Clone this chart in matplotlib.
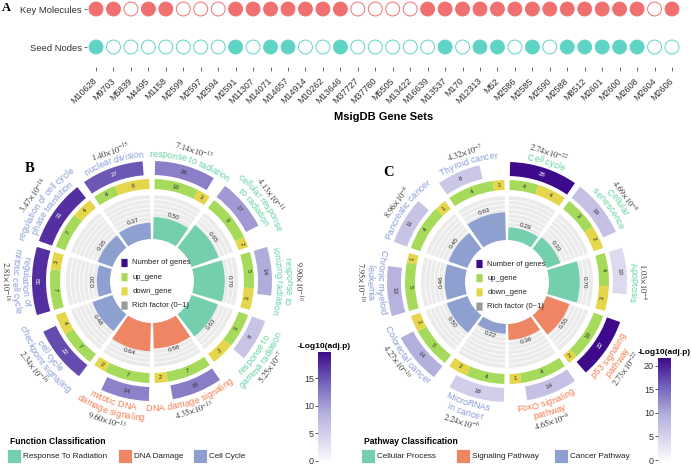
import numpy as np
import matplotlib
matplotlib.use("Agg")
import matplotlib.pyplot as plt
from matplotlib.colors import LinearSegmentedColormap, Normalize
from matplotlib.cm import ScalarMappable
from matplotlib.patches import Rectangle, FancyBboxPatch
from matplotlib.font_manager import FontProperties, findfont
from matplotlib.ft2font import FT2Font

plt.rcParams['font.family'] = ['Liberation Sans', 'DejaVu Sans']
plt.rcParams['mathtext.fontset'] = 'stix'

W, H = 691, 466

# ---------------- panel A data
gene_sets = ["M10628", "M9703", "M5839", "M4495", "M1158", "M2599", "M2597", "M2594",
             "M2591", "M11307", "M14071", "M14657", "M14914", "M10262", "M13646",
             "M37727", "M37780", "M5505", "M13422", "M16639", "M13537", "M170",
             "M12313", "M52", "M2586", "M2585", "M2590", "M2588", "M8512", "M2601",
             "M2600", "M2608", "M2604", "M2606"]
key_molecules = [1, 1, 0, 1, 1, 0, 0, 0, 1, 1, 1, 1, 1, 1, 1,
                 0, 0, 0, 0, 1, 1, 1, 1, 1, 1, 1, 1, 1, 1, 1, 1, 1, 0, 1]
seed_nodes = [1, 0, 0, 0, 0, 0, 0, 0, 1, 0, 1, 1, 0, 0, 1,
              0, 0, 0, 0, 0, 1, 0, 1, 1, 0, 1, 0, 1, 1, 1, 1, 1, 0, 0]
row_names = ["Key Molecules", "Seed Nodes"]

# ---------------- panel B data (GO)
go_terms = ["response to radiation", "cellular response\nto radiation",
            "response to\nionizing radiation", "response to\ngamma radiation",
            "DNA damage signaling", "mitotic DNA\ndamage signaling",
            "cell cycle\ncheckpoint signaling", "regulation of\nmitotic cell cycle",
            "regulation of cell cycle\nphase transition", "nuclear division"]
go_class = ["Response To Radiation"] * 4 + ["DNA Damage"] * 2 + ["Cell Cycle"] * 4
go_rich = [0.50, 0.65, 0.70, 0.63, 0.58, 0.64, 0.48, 0.30, 0.35, 0.37]
go_up = [10, 9, 5, 3, 7, 7, 7, 7, 7, 4]
go_down = [3, 2, 3, 2, 2, 2, 4, 3, 4, 6]
go_count = [26, 17, 14, 8, 16, 14, 22, 33, 31, 27]
go_padj = [7.14e-13, 4.13e-11, 9.90e-10, 5.25e-7, 4.35e-13, 9.60e-13,
           2.34e-16, 2.81e-18, 3.47e-18, 1.40e-15]

# ---------------- panel C data (KEGG)
kegg_terms = ["Cell cycle", "Cellular\nsenescence", "Apoptosis", "p53 signaling\npathway",
              "FoxO signaling\npathway", "MicroRNAs\nin cancer", "Colorectal cancer",
              "Chronic myeloid\nleukemia", "Pancreatic cancer", "Thyroid cancer"]
kegg_class = ["Cellular Process"] * 3 + ["Signaling Pathway"] * 2 + ["Cancer Pathway"] * 5
kegg_rich = [0.29, 0.33, 0.70, 0.55, 0.36, 0.22, 0.50, 0.46, 0.45, 0.63]
kegg_up = [4, 3, 4, 10, 4, 4, 5, 5, 4, 4]
kegg_down = [4, 2, 3, 2, 1, 2, 2, 1, 1, 1]
kegg_count = [28, 19, 10, 22, 14, 18, 14, 13, 11, 8]
kegg_padj = [2.74e-22, 4.69e-8, 1.03e-4, 2.73e-22, 4.65e-8, 2.24e-6,
             4.27e-10, 7.95e-10, 8.96e-8, 4.32e-7]

# colours
RED, TEAL = "#F07070", "#5FD4C5"
UP_COL, DOWN_COL, GRAY_BG = "#A6DA5B", "#E6D64C", "#EBEBEB"
go_fill = {"Response To Radiation": "#74CFAC", "DNA Damage": "#EE8563", "Cell Cycle": "#8EA0CF"}
go_text = {"Response To Radiation": "#5FD09F", "DNA Damage": "#F27A4C", "Cell Cycle": "#8599D4"}
kegg_fill = {"Cellular Process": "#74CFAC", "Signaling Pathway": "#EE8563", "Cancer Pathway": "#8EA0CF"}
kegg_text = {"Cellular Process": "#5FD09F", "Signaling Pathway": "#F27A4C", "Cancer Pathway": "#8599D4"}
cmap = LinearSegmentedColormap.from_list(
    "pv", [(0, "#FAF9FD"), (0.45, "#B2AEDC"), (0.7, "#7768BE"), (1, "#3D0A8B")])

fig = plt.figure(figsize=(W / 100, H / 100), dpi=100)

# ---------------- panel A
ax_a = fig.add_axes([87.3 / W, (H - 67) / H, (680.7 - 87.3) / W, 67 / H])
xs = np.arange(len(gene_sets))
for row, (flags, col) in enumerate([(key_molecules, RED), (seed_nodes, TEAL)]):
    face = [col if f else "white" for f in flags]
    ax_a.scatter(xs, np.full(len(xs), row), s=100, facecolors=face, edgecolors=col,
                 linewidths=0.7, clip_on=False)
ax_a.set_xlim(-0.5, len(gene_sets) - 0.5)
ax_a.set_ylim(1.526, -0.237)
ax_a.set_xticks(xs)
ax_a.set_xticklabels(gene_sets, rotation=45, ha="right", va="center",
                     rotation_mode="anchor", fontsize=6.5, color="#333333")
ax_a.set_yticks([0, 1])
ax_a.set_yticklabels(row_names, fontsize=6.8, color="#333333")
ax_a.tick_params(axis="x", length=3, width=0.6, color="#555555", pad=6)
ax_a.tick_params(axis="y", length=2.5, width=0.6, color="#555555", pad=1.5)
for sp in ax_a.spines.values():
    sp.set_visible(False)
ax_a.set_facecolor("none")
fig.text(384 / W, 1 - 117 / H, "MsigDB Gene Sets", ha="center", va="center",
         fontsize=8, fontweight="bold")

# ---------------- circular panels
RMAX = 165
R0, R1 = 42, 86
RM0, RM1 = 92, 102
RO0, RO1 = 106, 120
GAP = 3.0
NAME_FS, P_FS, NUM_FS = 6.5, 6.0, 4.6


def advances(s, fs):
    f = FT2Font(findfont(FontProperties(family="Liberation Sans")))
    f.set_size(fs, 72)
    return [f.load_char(ord(c)).linearHoriAdvance / 65536 * 100 / 72 for c in s]


def is_top(th, left_top):
    th = th % 360
    if abs(th - 270) < 1e-6:
        return left_top
    return th <= 90 + 1e-6 or th > 270


def rot_for(th, top):
    return -th if top else 180 - th


def curved_text(ax, s, th_c, r, top, fs, color):
    em = fs * 100 / 72
    adv = advances(s, fs)
    ang = [a / r * 180 / np.pi for a in adv]
    tot = sum(ang)
    rb = r - 0.33 * em if top else r + 0.33 * em
    start = th_c - tot / 2 if top else th_c + tot / 2
    sgn = 1 if top else -1
    cum = 0
    for ch, a in zip(s, ang):
        th = start + sgn * (cum + a / 2)
        cum += a
        if ch == " ":
            continue
        ax.text(np.deg2rad(th), rb, ch, rotation=rot_for(th, top), rotation_mode="anchor",
                ha="center", va="baseline", fontsize=fs, color=color, clip_on=False, zorder=6)


def pv_text(p):
    m, e = ("%.2e" % p).split("e")
    return r"$%s{\times}10^{%d}$" % (m, int(e))


def draw_circle(cx, cy, terms, classes, rich, up, down, count, padj, vmax, fills, tcols):
    ax = fig.add_axes([(cx - RMAX) / W, (H - cy - RMAX) / H, 2 * RMAX / W, 2 * RMAX / H],
                      projection="polar")
    ax.set_theta_zero_location("N")
    ax.set_theta_direction(-1)
    ax.set_ylim(0, RMAX)
    ax.set_axis_off()
    n = len(terms)
    step = 360 / n
    st = np.arange(n) * step + GAP / 2
    span = step - GAP
    mid = st + span / 2
    rich = np.array(rich)
    up = np.array(up, float)
    down = np.array(down, float)
    count = np.array(count, float)
    logp = -np.log10(np.array(padj))
    norm = Normalize(0, vmax)

    # rich factor track
    ax.bar(np.deg2rad(st), R1 - R0, width=np.deg2rad(span), bottom=R0, align="edge",
           color=GRAY_BG, zorder=1)
    tt = np.linspace(0, 2 * np.pi, 400)
    for k in range(1, 10):
        ax.plot(tt, np.full_like(tt, R0 + k * (R1 - R0) / 10), color="white", lw=0.6, zorder=1.5)
    ax.bar(np.deg2rad(st), rich * (R1 - R0), width=np.deg2rad(span), bottom=R0, align="edge",
           color=[fills[c] for c in classes], zorder=2)
    for i in range(n):
        top = is_top(mid[i], True)
        ax.text(np.deg2rad(mid[i]), R0 + rich[i] * (R1 - R0) + 4, "%.2f" % rich[i],
                rotation=rot_for(mid[i], top), rotation_mode="anchor", ha="center",
                va="center", fontsize=NUM_FS, color="#333333", zorder=5)

    # up / down track
    fu = up / (up + down)
    ax.bar(np.deg2rad(st), RM1 - RM0, width=np.deg2rad(span * fu), bottom=RM0, align="edge",
           color=UP_COL, zorder=2)
    ax.bar(np.deg2rad(st + span * fu), RM1 - RM0, width=np.deg2rad(span * (1 - fu)),
           bottom=RM0, align="edge", color=DOWN_COL, zorder=2)
    for i in range(n):
        for th, v in [(st[i] + span * fu[i] / 2, up[i]),
                      (st[i] + span * fu[i] + span * (1 - fu[i]) / 2, down[i])]:
            top = is_top(th, True)
            ax.text(np.deg2rad(th), (RM0 + RM1) / 2, "%d" % v, rotation=rot_for(th, top),
                    rotation_mode="anchor", ha="center", va="center", fontsize=NUM_FS,
                    color="#333333", zorder=5)

    # number of genes track
    fo = 0.5 + 0.5 * count / count.max()
    ax.bar(np.deg2rad(st), RO1 - RO0, width=np.deg2rad(span * fo), bottom=RO0, align="edge",
           color=cmap(norm(logp)), zorder=2)
    for i in range(n):
        th = st[i] + span * fo[i] / 2
        top = is_top(th, True)
        ax.text(np.deg2rad(th), (RO0 + RO1) / 2, "%d" % count[i], rotation=rot_for(th, top),
                rotation_mode="anchor", ha="center", va="center", fontsize=NUM_FS,
                color="white" if norm(logp[i]) > 0.65 else "#333333", zorder=5)

    # term names and adjusted p values
    base, lh = 127, 10
    for i in range(n):
        lines = terms[i].split("\n")
        L = len(lines)
        top = is_top(mid[i], False)
        for j, line in enumerate(lines):
            r = base + (L - 1 - j) * lh if top else base + j * lh
            curved_text(ax, line, mid[i], r, top, NAME_FS, tcols[classes[i]])
        rp = base + (L - 1) * lh + 9.5
        ax.text(np.deg2rad(mid[i]), rp, pv_text(padj[i]), rotation=rot_for(mid[i], top),
                rotation_mode="anchor", ha="center", va="center", fontsize=P_FS,
                color="#333333", clip_on=False, zorder=6)
    return norm


norm_b = draw_circle(152, 281, go_terms, go_class, go_rich, go_up, go_down, go_count,
                     go_padj, 19.8, go_fill, go_text)
norm_c = draw_circle(507, 282, kegg_terms, kegg_class, kegg_rich, kegg_up, kegg_down,
                     kegg_count, kegg_padj, 21.6, kegg_fill, kegg_text)

# ---------------- colour bars
for (x0, y0, y1, norm, ticks) in [(318, 352, 461, norm_b, [0, 5, 10, 15]),
                                  (658, 358, 460, norm_c, [0, 5, 10, 15, 20])]:
    cax = fig.add_axes([x0 / W, (H - y1) / H, 13 / W, (y1 - y0) / H])
    cb = fig.colorbar(ScalarMappable(norm=norm, cmap=cmap), cax=cax)
    cb.outline.set_visible(False)
    cb.set_ticks(ticks)
    cax.yaxis.set_ticks_position("left")
    cax.tick_params(length=2, width=0.6, color="#444444", labelsize=6.5,
                    labelcolor="#333333", pad=1)
    fig.text((x0 + 6.5) / W, 1 - (y0 - 6) / H, "-Log10(adj.p)", ha="center", va="center",
             fontsize=6, fontweight="bold")

# ---------------- overlay: panel letters and legends
ov = fig.add_axes([0, 0, 1, 1])
ov.set_xlim(0, W)
ov.set_ylim(H, 0)
ov.axis("off")
ov.text(6, 8, "A", fontsize=9, fontweight="bold", family="Liberation Serif",
        ha="center", va="center")
ov.text(30, 168, "B", fontsize=10.5, fontweight="bold", family="Liberation Serif",
        ha="center", va="center")
ov.text(389, 172, "C", fontsize=10.5, fontweight="bold", family="Liberation Serif",
        ha="center", va="center")

inner_items = [("Number of genes", "#3D0A8B"), ("up_gene", UP_COL),
               ("down_gene", DOWN_COL), ("Rich factor (0~1)", "#9A9A9A")]
for cx, cy in [(152, 281), (507, 282)]:
    for k, (lab, col) in enumerate(inner_items):
        y = cy - 18 + k * 14.2
        ov.add_patch(FancyBboxPatch((cx - 30, y - 3.5), 5, 7, boxstyle="round,pad=0.6",
                                    facecolor=col, edgecolor="none"))
        ov.text(cx - 19.5, y, lab, fontsize=5.5, va="center", ha="left", color="#222222")

for (x0, title, classes, fills, xs_sq) in [
        (10, "Function Classification", ["Response To Radiation", "DNA Damage", "Cell Cycle"],
         go_fill, [7, 118, 193]),
        (364, "Pathway Classification", ["Cellular Process", "Signaling Pathway", "Cancer Pathway"],
         kegg_fill, [361, 456, 554])]:
    ov.text(x0, 441, title, fontsize=6.2, fontweight="bold", va="center", ha="left")
    for xq, c in zip(xs_sq, classes):
        ov.add_patch(Rectangle((xq, 449), 14, 14, facecolor=fills[c], edgecolor="white", lw=0.6))
        ov.text(xq + 16.5, 456, c, fontsize=5.9, va="center", ha="left", color="#222222")

fig.savefig("out.png", dpi=100)
